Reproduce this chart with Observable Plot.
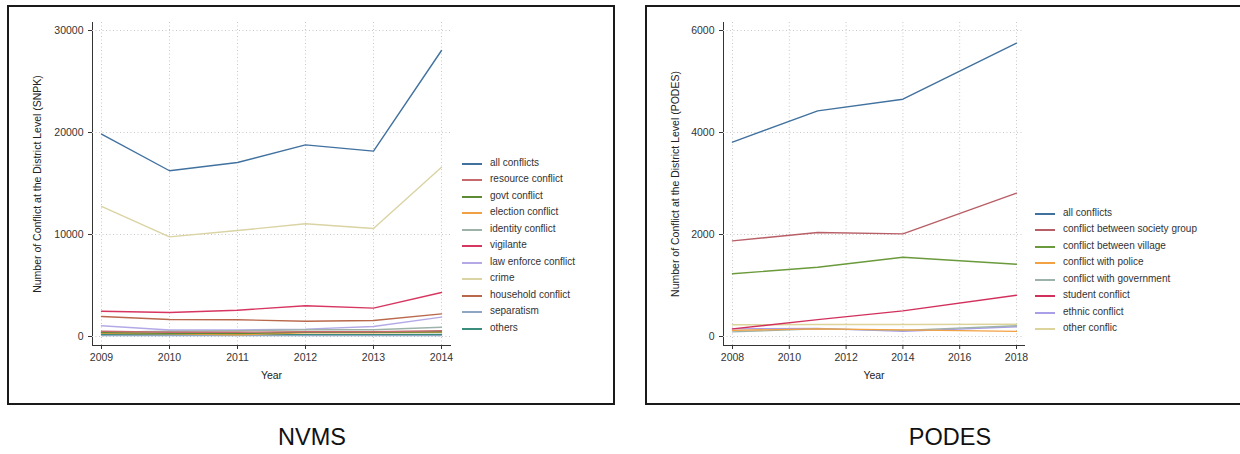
<!DOCTYPE html>
<html>
<head>
<meta charset="utf-8">
<script src="https://cdn.jsdelivr.net/npm/d3@7"></script>
<script src="https://cdn.jsdelivr.net/npm/@observablehq/plot@0.6"></script>
<style>
  body { margin: 0; background: #fff; width: 1240px; height: 454px; overflow: hidden; position: relative; font-family: "Liberation Sans", Arial, sans-serif; }
  .box { position: absolute; border: 2px solid #1a1a1a; box-sizing: border-box; }
  .plot { position: absolute; top: 0; }
  .legend { position: absolute; font-size: 10px; color: #333; }
  .legend .row { position: absolute; white-space: nowrap; height: 12px; }
  .legend .sw { position: absolute; top: 5px; height: 2px; width: 20px; }
  .legend .lbl { position: absolute; top: -1px; left: 28px; }
  .caption { position: absolute; font-size: 23.5px; color: #111; transform: translateX(-50%); top: 424px; }
</style>
</head>
<body>
<script>
// ---------- NVMS (SNPK) ----------
const nvmsYears = [2009, 2010, 2011, 2012, 2013, 2014];
const nvmsSeries = ["all conflicts", "resource conflict", "govt conflict", "election conflict", "identity conflict", "vigilante", "law enforce conflict", "crime", "household conflict", "separatism", "others"];
const nvmsColors = ["#41719f", "#c66a6e", "#5d8a35", "#f0a143", "#9db3a9", "#d6365f", "#b4a9e6", "#dad3a3", "#b9684c", "#8fa6c3", "#3a8c7c"];
const nvmsAll       = [19850, 16250, 17060, 18790, 18170, 28040];
const nvmsResource  = [520, 420, 420, 470, 470, 560];
const nvmsGovt      = [380, 320, 280, 430, 420, 470];
const nvmsElection  = [320, 260, 170, 360, 360, 420];
const nvmsIdentity  = [420, 520, 560, 660, 660, 910];
const nvmsVigilante = [2480, 2350, 2580, 3010, 2780, 4310];
const nvmsLaw       = [1050, 640, 650, 720, 980, 1900];
const nvmsCrime     = [12750, 9770, 10390, 11050, 10590, 16600];
const nvmsHousehold = [1960, 1670, 1640, 1500, 1570, 2220];
const nvmsSeparatism= [90, 90, 90, 90, 90, 90];
const nvmsOthers    = [180, 170, 170, 180, 180, 190];
const nvmsValues = [nvmsAll, nvmsResource, nvmsGovt, nvmsElection, nvmsIdentity, nvmsVigilante, nvmsLaw, nvmsCrime, nvmsHousehold, nvmsSeparatism, nvmsOthers];
const nvmsYTicks = [0, 10000, 20000, 30000];
const nvmsXTicks = [2009, 2010, 2011, 2012, 2013, 2014];
const nvmsYLabel = "Number of Conflict at the District Level (SNPK)";

// ---------- PODES ----------
const podesYears = [2008, 2011, 2014, 2018];
const podesSeries = ["all conflicts", "conflict between society group", "conflict between village", "conflict with police", "conflict with government", "student conflict", "ethnic conflict", "other conflic"];
const podesColors = ["#41719f", "#b85e66", "#6a9a3c", "#f2a143", "#9db3a9", "#d2305c", "#a99ee8", "#ddd49c"];
const podesAll       = [3810, 4425, 4653, 5752];
const podesSociety   = [1876, 2039, 2013, 2810];
const podesVillage   = [1229, 1359, 1555, 1418];
const podesPolice    = [120, 150, 130, 100];
const podesGovernment= [90, 150, 120, 210];
const podesStudent   = [150, 330, 503, 810];
const podesEthnic    = [150, 160, 100, 190];
const podesOther     = [230, 235, 235, 240];
const podesValues = [podesAll, podesSociety, podesVillage, podesPolice, podesGovernment, podesStudent, podesEthnic, podesOther];
const podesYTicks = [0, 2000, 4000, 6000];
const podesXTicks = [2008, 2010, 2012, 2014, 2016, 2018];
const podesYLabel = "Number of Conflict at the District Level (PODES)";
const xLabel = "Year";

function longData(years, series, values) {
  const out = [];
  series.forEach((s, i) => years.forEach((y, j) => out.push({series: s, year: y, value: values[i][j]})));
  return out;
}

function makePlot(opts) {
  const data = longData(opts.years, opts.series, opts.values);
  const drawOrder = opts.series.slice().reverse();
  return Plot.plot({
    width: opts.width, height: 400,
    marginLeft: opts.marginLeft, marginRight: opts.marginRight, marginTop: 22, marginBottom: 55,
    insetLeft: 9, insetRight: opts.insetRight, insetTop: 8, insetBottom: 9,
    style: {fontFamily: "Liberation Sans, Arial, sans-serif", fontSize: "10.5px", color: "#333", background: "transparent"},
    x: {domain: d3.extent(opts.years), ticks: opts.xTicks, tickFormat: d => String(d), tickSize: 4, tickPadding: 4,
        line: true, label: null},
    y: {domain: [0, opts.yTicks[opts.yTicks.length - 1]], ticks: opts.yTicks, tickFormat: d => String(d), tickSize: 4, tickPadding: 5,
        line: true, label: null},
    color: {domain: opts.series, range: opts.colors},
    marks: [
      Plot.ruleY(opts.yTicks, {stroke: "#c8c8c8", strokeDasharray: "1,2.5", strokeWidth: 1}),
      Plot.ruleX(opts.xTicks, {stroke: "#c8c8c8", strokeDasharray: "1,2.5", strokeWidth: 1}),
      Plot.line(data, {x: "year", y: "value", z: "series", stroke: "series", strokeWidth: 1.4,
        sort: (a, b) => drawOrder.indexOf(a.series) - drawOrder.indexOf(b.series) || a.year - b.year}),
      Plot.text([opts.yLabel], {frameAnchor: "left", dx: -opts.labelOffset, rotate: -90, textAnchor: "middle",
        fontSize: 10.5, fill: "#222"}),
      Plot.text([xLabel], {frameAnchor: "bottom", dy: 33, textAnchor: "middle", fontSize: 10.5, fill: "#222"})
    ]
  });
}

function makeLegend(left, top, spacing, series, colors) {
  const lg = document.createElement("div");
  lg.className = "legend";
  lg.style.left = left + "px";
  lg.style.top = top + "px";
  series.forEach((s, i) => {
    const row = document.createElement("div");
    row.className = "row";
    row.style.top = (i * spacing) + "px";
    const sw = document.createElement("div");
    sw.className = "sw";
    sw.style.background = colors[i];
    const lbl = document.createElement("div");
    lbl.className = "lbl";
    lbl.textContent = s;
    row.appendChild(sw); row.appendChild(lbl);
    lg.appendChild(row);
  });
  document.body.appendChild(lg);
}

// panel boxes
const b1 = document.createElement("div"); b1.className = "box";
Object.assign(b1.style, {left: "7px", top: "5px", width: "608px", height: "400px"});
document.body.appendChild(b1);
const b2 = document.createElement("div"); b2.className = "box";
Object.assign(b2.style, {left: "645px", top: "5px", width: "600px", height: "400px"});
document.body.appendChild(b2);

const p1 = makePlot({years: nvmsYears, series: nvmsSeries, values: nvmsValues, colors: nvmsColors,
  xTicks: nvmsXTicks, yTicks: nvmsYTicks, yLabel: nvmsYLabel, width: 460, marginLeft: 92, marginRight: 10, insetRight: 9, labelOffset: 55});
p1.classList.add("plot"); p1.style.left = "0px";
document.body.appendChild(p1);

const p2 = makePlot({years: podesYears, series: podesSeries, values: podesValues, colors: podesColors,
  xTicks: podesXTicks, yTicks: podesYTicks, yLabel: podesYLabel, width: 400, marginLeft: 93, marginRight: 6, insetRight: 8, labelOffset: 48});
p2.classList.add("plot"); p2.style.left = "630px";
document.body.appendChild(p2);

makeLegend(462, 158, 16.47, nvmsSeries, nvmsColors);
makeLegend(1035, 208, 16.43, podesSeries, podesColors);

const c1 = document.createElement("div"); c1.className = "caption"; c1.textContent = "NVMS"; c1.style.left = "312px";
document.body.appendChild(c1);
const c2 = document.createElement("div"); c2.className = "caption"; c2.textContent = "PODES"; c2.style.left = "950px";
document.body.appendChild(c2);
</script>
</body>
</html>
